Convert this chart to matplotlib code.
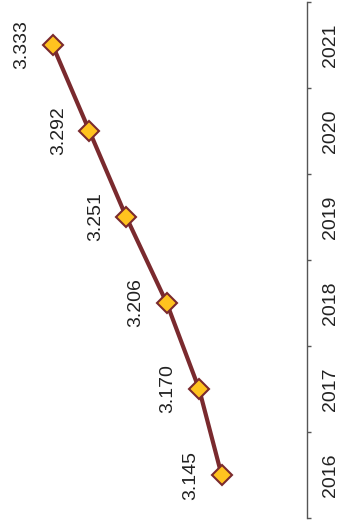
import matplotlib.pyplot as plt

plt.rcParams['font.family'] = ['Liberation Sans', 'DejaVu Sans']

years = ['2016', '2017', '2018', '2019', '2020', '2021']
values = [3.145, 3.170, 3.206, 3.251, 3.292, 3.333]
labels = ['3.145', '3.170', '3.206', '3.251', '3.292', '3.333']

line_col = '#7a2a2e'
fill_col = '#ffc31f'

# chart is drawn turned a quarter turn: years run up the right side
fig = plt.figure(figsize=(3.49, 5.25), dpi=100)
ax = fig.add_axes([0.0, 7 / 525, 307 / 349, 516 / 525])

pos = list(range(len(years)))
ax.plot(values, pos, color=line_col, lw=3, marker='D', ms=10,
        mfc=fill_col, mec=line_col, mew=1.5, zorder=3)

for v, p, t in zip(values, pos, labels):
    ax.annotate(t, (v, p), xytext=(-31, 0), textcoords='offset pixels',
                rotation=90, ha='center', va='center', fontsize=14, color='#222222')

ax.set_xlim(3.3914, 3.05)
ax.set_ylim(-0.5, len(years) - 0.5)

for s in ['left', 'top', 'bottom']:
    ax.spines[s].set_visible(False)
ax.spines['right'].set_color('#555555')
ax.spines['right'].set_linewidth(1)

ax.set_xticks([])
ax.yaxis.tick_right()
ax.set_yticks(pos)
ax.set_yticklabels(years, rotation=90, va='center', fontsize=14, color='#222222')
ax.tick_params(axis='y', which='major', length=0, pad=11)
ax.set_yticks([p - 0.5 for p in pos] + [len(years) - 0.5], minor=True)
ax.tick_params(axis='y', which='minor', length=3, width=1, color='#555555', direction='out')

fig.savefig('out.png', dpi=100)
